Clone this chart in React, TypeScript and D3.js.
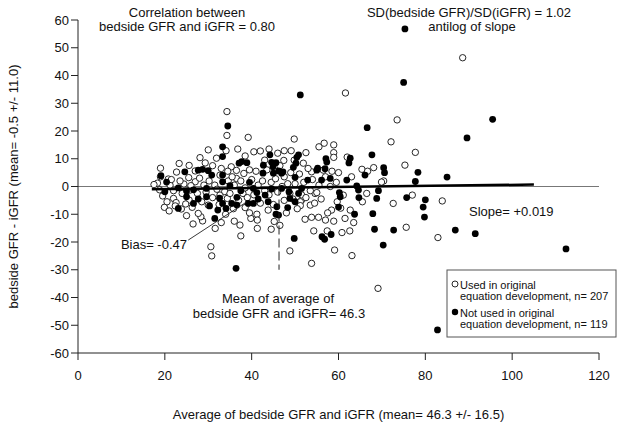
import React from "react";
import * as d3 from "d3";

// Open circles: used in original equation development (x = average, y = difference)
const usedPoints: [number, number][] = [
  [88.6, 46.4], [61.6, 33.7], [73.5, 24.0], [72.1, 16.1], [77.7, 12.3], [75.3, 7.7], [68.1, 6.8], [65.4, 6.2],
  [66.7, 5.5], [70.4, 2.0], [69.9, 1.6], [77.0, -3.1], [83.9, -5.2], [72.6, -6.1], [55.5, 14.3], [56.7, 15.6],
  [58.9, 15.0], [58.9, 12.2], [58.9, 10.5], [62.0, 10.6], [54.6, -2.5], [58.1, 0.0], [61.1, -3.1], [59.7, -5.5],
  [58.4, -8.5], [62.7, -8.5], [75.6, -14.7], [82.9, -18.4], [69.1, -36.7], [59.1, -22.9], [63.1, -24.9], [62.6, -16.0],
  [60.8, -16.6], [57.4, -16.0], [54.3, -16.0], [58.9, -12.5], [57.0, -12.1], [53.8, -27.7], [48.8, -23.2], [52.3, -11.8],
  [53.8, -11.1], [55.4, -11.1], [51.5, -4.9], [53.5, -6.7], [51.2, -5.5], [51.2, -6.9], [43.8, -8.5], [41.2, -10.0],
  [41.3, -12.1], [41.3, -15.1], [44.5, -15.4], [37.3, -13.9], [37.5, -17.8], [38.5, -7.6], [31.6, -15.1], [30.6, -21.7],
  [30.8, -25.0], [28.7, -12.4], [28.3, -10.9], [27.7, -9.7], [19.9, -7.5], [22.0, -4.3], [22.6, -5.8], [23.8, -8.1],
  [22.4, -7.0], [25.6, -4.9], [30.0, -6.7], [34.4, -4.3], [32.7, -3.1], [24.4, 0.9], [25.8, -1.3], [21.2, 0.5],
  [18.3, 1.2], [19.0, 6.6], [20.8, 2.7], [23.3, 8.3], [22.7, 5.2], [25.6, 7.6], [28.1, 10.4], [27.0, 5.6],
  [27.0, 1.7], [31.9, 10.2], [34.3, 27.0], [34.3, 18.4], [34.1, 12.9], [39.2, 17.7], [35.3, 7.1], [36.5, 2.9],
  [34.6, 2.0], [32.7, 4.1], [49.8, 17.1], [47.5, 12.9], [49.1, 12.9], [52.5, 12.2], [49.8, 9.5], [51.9, 8.4],
  [47.4, 9.4], [53.8, 5.3], [56.5, 5.9], [55.0, -2.2],
  [17.5, 0.7], [18.8, -1.2], [19.5, -3.4], [20.5, -5.5], [21.0, -8.8], [19.0, 3.5], [21.5, 2.5], [22.0, -1.5],
  [23.5, 2.0], [24.0, -2.5], [24.8, -6.3], [25.5, 3.2], [26.0, 0.3], [26.3, -7.5], [27.5, -2.5], [28.0, 3.0],
  [28.5, -5.5], [29.0, 0.5], [29.3, 8.5], [29.5, -2.0], [30.2, 2.0], [31.0, -4.0], [31.0, 7.5], [31.5, 0.5],
  [32.0, -1.0], [32.5, -6.5], [33.0, 6.5], [33.8, -1.8], [34.0, -10.0], [34.5, 5.5], [35.0, -2.5], [35.5, 3.5],
  [35.8, -8.0], [36.0, 0.5], [36.5, 5.8], [37.0, -5.0], [37.5, 2.0], [38.0, -2.5], [38.2, 4.7], [38.5, -0.5],
  [39.0, -4.0], [39.5, 6.0], [39.8, -11.5], [40.0, 2.5], [40.5, -3.0], [41.0, 5.5], [41.5, 0.5], [42.0, -6.0],
  [42.5, 2.0], [43.0, -1.5], [43.0, 9.5], [43.5, 6.0], [44.0, -3.0], [44.5, 1.5], [45.0, -6.5], [45.5, 2.8],
  [46.0, -2.0], [46.5, 7.5], [47.0, 0.0], [47.5, -5.0], [47.5, 3.5], [48.0, -9.5], [48.3, 1.0], [48.8, -2.5],
  [49.0, 5.0], [49.5, -4.5], [50.0, 1.0], [50.5, -8.0], [51.0, 4.5], [51.5, -3.0], [52.0, 1.5], [52.5, -4.0],
  [53.0, 6.5], [53.5, -1.5], [54.0, 2.5], [54.5, -6.0], [55.5, 0.5], [56.0, -4.5], [57.0, 3.5], [57.5, -9.5],
  [58.5, 5.5], [59.5, 1.5], [60.5, -7.8], [61.5, -11.5], [40.5, 12.5], [42.0, 12.8], [44.0, 13.5], [46.0, 12.0],
  [38.5, 11.0], [36.8, 13.5], [30.0, 13.2], [45.2, -12.6], [46.5, -14.0], [39.5, -9.5], [36.0, -12.5], [33.0, -13.0],
  [26.5, -13.5], [25.0, -10.5], [60.0, 5.0], [63.0, 3.5], [65.5, -5.5], [66.5, -2.5], [63.5, -13.0],
];

// Filled circles: not used in original equation development
const notUsedPoints: [number, number][] = [
  [75.3, 56.8], [75.0, 37.5], [66.6, 21.2], [95.5, 24.2], [89.6, 17.5], [67.7, 11.4], [85.0, 3.4], [78.3, 5.1],
  [77.7, 1.8], [70.4, 6.8], [70.6, 5.0], [66.1, 4.1], [61.9, 2.3], [64.2, 0.2], [64.6, -1.3], [69.2, -1.5],
  [64.7, -4.0], [68.8, -4.3], [75.7, -4.0], [80.0, -4.8], [79.5, -7.4], [67.9, -9.8], [63.7, -10.0], [79.8, -11.0],
  [68.3, -15.4], [72.7, -15.7], [86.9, -15.7], [91.5, -17.0], [70.3, -21.1], [112.4, -22.5], [82.8, -51.7], [56.2, -18.1],
  [56.8, -19.0], [58.3, -17.3], [49.8, -18.7], [36.4, -29.5], [51.2, 33.0], [62.7, 10.2], [62.4, 8.5], [57.1, 10.0],
  [57.3, 8.8], [55.2, 6.6], [56.9, 6.4], [58.1, 2.9], [56.1, 2.3], [60.2, -2.2], [60.4, -3.7], [60.0, -7.4],
  [55.0, 5.9], [50.8, 11.4], [50.4, 10.5], [50.2, 8.4], [49.6, 6.9], [50.0, 3.3], [52.9, 2.3], [51.5, -0.7],
  [50.8, -2.5], [48.6, -1.9], [46.9, -0.7], [44.6, -0.9], [44.2, 11.4], [44.6, 8.7], [45.6, 8.6], [44.9, 7.1],
  [42.7, 7.7], [42.6, 4.8], [45.0, 4.8], [46.9, 4.8], [47.2, 5.3], [46.2, 5.6], [38.9, 8.6], [37.7, 9.0],
  [37.1, 8.4], [33.3, 14.3], [34.5, 21.8], [33.3, 10.8], [30.0, 5.7], [30.8, 4.1], [28.7, 6.2], [27.7, 5.9],
  [24.6, 5.3], [19.1, 3.9], [20.4, 1.6], [20.0, -1.9], [23.1, -0.5], [23.1, -7.9], [25.0, -3.7], [25.0, -1.6],
  [26.6, -1.2], [26.6, -6.1], [27.7, -4.5], [29.6, -3.7], [29.6, -0.7], [30.3, -7.0], [31.5, -11.5], [32.2, -8.5],
  [32.6, -4.2], [33.3, -6.1], [34.1, -7.9], [35.4, -6.1], [33.3, 1.7], [33.3, 4.1], [36.6, -3.9], [36.6, -6.7],
  [39.2, -6.1], [40.4, -6.1], [40.4, -0.7], [41.2, -2.2], [43.1, -3.1], [43.8, -5.5], [45.6, -10.0], [45.8, -7.3],
  [48.3, -7.6], [48.8, -4.3], [50.0, -5.5], [46.2, -10.3], [37.5, -1.5], [39.5, 1.5], [41.5, -4.5], [35.0, 0.3],
];

const xTicks = [0, 20, 40, 60, 80, 100, 120];
const yTicks = [60, 50, 40, 30, 20, 10, 0, -10, -20, -30, -40, -50, -60];

const regressionX = [17, 105];
const regressionIntercept = -1.3;
const regressionSlope = 0.019;
const meanAverage = 46.3;
const dashedBottom = -30;
const biasPointer: [number, number][] = [[25.4, -19.3], [38.8, -5.6]];

const FONT = "'Liberation Sans', Arial, sans-serif";

export default function App() {
  const x = d3.scaleLinear().domain([0, 120]).range([78, 599]);
  const y = d3.scaleLinear().domain([-60, 60]).range([353, 20]);
  const reg = (v: number) => regressionIntercept + regressionSlope * v;

  return (
    <svg
      width={624}
      height={429}
      style={{ position: "absolute", left: 0, top: 0, background: "#fff" }}
      fontFamily={FONT}
    >
      <rect x={0} y={0} width={624} height={429} fill="#fff" />
      {/* zero line */}
      <line x1={x(0)} x2={x(120)} y1={y(0)} y2={y(0)} stroke="#777" strokeWidth={1} />

      {/* points */}
      {usedPoints.map((p, i) => (
        <circle key={"u" + i} cx={x(p[0])} cy={y(p[1])} r={3.2} fill="#fff" stroke="#111" strokeWidth={0.9} />
      ))}
      {notUsedPoints.map((p, i) => (
        <circle key={"n" + i} cx={x(p[0])} cy={y(p[1])} r={3.4} fill="#000" />
      ))}

      {/* regression line */}
      <line
        x1={x(regressionX[0])}
        x2={x(regressionX[1])}
        y1={y(reg(regressionX[0]))}
        y2={y(reg(regressionX[1]))}
        stroke="#000"
        strokeWidth={2.5}
      />

      {/* dashed mean line */}
      <line
        x1={x(meanAverage)}
        x2={x(meanAverage)}
        y1={y(0)}
        y2={y(dashedBottom)}
        stroke="#222"
        strokeWidth={1}
        strokeDasharray="9,4"
      />

      {/* bias pointer */}
      <line
        x1={x(biasPointer[0][0])}
        y1={y(biasPointer[0][1])}
        x2={x(biasPointer[1][0])}
        y2={y(biasPointer[1][1])}
        stroke="#222"
        strokeWidth={0.9}
      />

      {/* axes */}
      <line x1={x(0)} x2={x(0)} y1={y(60)} y2={y(-60)} stroke="#222" strokeWidth={1} />
      <line x1={x(0)} x2={x(120)} y1={y(-60)} y2={y(-60)} stroke="#222" strokeWidth={1} />
      {yTicks.map((t) => (
        <g key={"yt" + t}>
          <line x1={x(0) - 7} x2={x(0)} y1={y(t)} y2={y(t)} stroke="#222" strokeWidth={1} />
          <text x={x(0) - 9} y={y(t) + 4.5} textAnchor="end" fontSize={13} fill="#111">
            {t}
          </text>
        </g>
      ))}
      {xTicks.map((t) => (
        <g key={"xt" + t}>
          <line x1={x(t)} x2={x(t)} y1={y(-60)} y2={y(-60) + 7} stroke="#222" strokeWidth={1} />
          <text x={x(t)} y={380} textAnchor="middle" fontSize={13} fill="#111">
            {t}
          </text>
        </g>
      ))}

      {/* axis titles */}
      <text
        transform={`translate(18, ${(y(60) + y(-60)) / 2}) rotate(-90)`}
        textAnchor="middle"
        fontSize={13}
        fill="#111"
      >
        bedside GFR - iGFR (mean= -0.5 +/- 11.0)
      </text>
      <text x={(x(0) + x(120)) / 2} y={419} textAnchor="middle" fontSize={13} fill="#111">
        Average of bedside GFR and iGFR (mean= 46.3 +/- 16.5)
      </text>

      {/* annotations */}
      <text x={187} y={16.5} textAnchor="middle" fontSize={13} fill="#111">Correlation between</text>
      <text x={187} y={31} textAnchor="middle" fontSize={13} fill="#111">bedside GFR and iGFR = 0.80</text>
      <text x={469} y={16.5} textAnchor="middle" fontSize={13} fill="#111">SD(bedside GFR)/SD(iGFR) = 1.02</text>
      <text x={472} y={31} textAnchor="middle" fontSize={13} fill="#111">antilog of slope</text>
      <text x={469} y={216} fontSize={13} fill="#111">Slope= +0.019</text>
      <text x={187} y={249} textAnchor="end" fontSize={13} fill="#111">Bias= -0.47</text>
      <text x={278} y={303} textAnchor="middle" fontSize={13} fill="#111">Mean of average of</text>
      <text x={279} y={318} textAnchor="middle" fontSize={13} fill="#111">bedside GFR and iGFR= 46.3</text>

      {/* legend */}
      <rect x={447} y={270} width={169} height={67} fill="#fff" stroke="#555" strokeWidth={1} />
      <circle cx={455} cy={284} r={3} fill="#fff" stroke="#111" strokeWidth={0.9} />
      <text x={460} y={289} fontSize={11} fill="#111">Used in original</text>
      <text x={460} y={300} fontSize={11} fill="#111">equation development, n= 207</text>
      <circle cx={455} cy={312} r={3.2} fill="#000" />
      <text x={460} y={317} fontSize={11} fill="#111">Not used in original</text>
      <text x={460} y={328} fontSize={11} fill="#111">equation development, n= 119</text>
    </svg>
  );
}
